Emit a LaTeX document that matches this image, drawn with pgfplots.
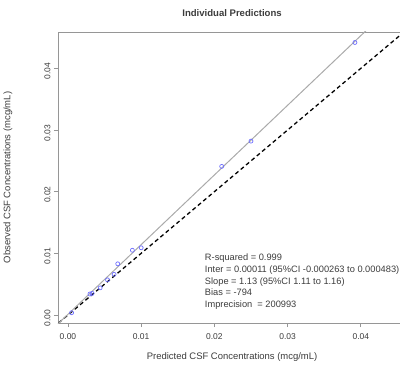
\documentclass[border=0pt]{standalone}
\usepackage{pgfplots}
\pgfplotsset{compat=1.18}
\usepackage{fontspec}
\setmainfont{Liberation Sans}
\definecolor{framegray}{RGB}{150,150,150}
\definecolor{ptblue}{RGB}{110,110,255}
\definecolor{reggray}{RGB}{170,170,170}
\definecolor{txt}{RGB}{60,60,60}
\begin{document}
\begin{tikzpicture}
\begin{axis}[
  at={(58bp,46bp)}, anchor=south west,
  scale only axis, width=346bp, height=291bp,
  xmin=-0.00136, xmax=0.0459, ymin=-0.0013, ymax=0.0459,
  xtick={0,0.01,0.02,0.03,0.04}, ytick={0,0.01,0.02,0.03,0.04},
  xticklabels={0.00,0.01,0.02,0.03,0.04},
  yticklabels={0.00,0.01,0.02,0.03,0.04},
  scaled ticks=false,
  tick align=outside, tick pos=left, major tick length=4bp,
  axis line style={framegray, line width=0.8bp},
  every tick/.style={framegray, line width=0.8bp},
  ticklabel style={font=\fontsize{8.5}{10}\selectfont, text=txt},
  xticklabel style={anchor=north, yshift=-3bp},
  yticklabel style={rotate=90, anchor=south, xshift=-3bp},
  every axis title shift=0pt,
  title={Individual Predictions},
  title style={font=\fontsize{9.6}{11}\selectfont\bfseries, text=txt, at={(axis description cs:0.503,1.064)}, anchor=center},
  xlabel={Predicted CSF Concentrations (mcg/mL)},
  xlabel style={font=\fontsize{9.5}{11}\selectfont, text=txt, at={(axis description cs:0.503,-0.117)}, anchor=center},
  ylabel={Observed CSF Concentrations (mcg/mL)},
  ylabel style={font=\fontsize{9.5}{11}\selectfont, text=txt, at={(axis description cs:-0.1445,0.5)}, anchor=center, rotate=0},
  clip mode=individual,
]
\addplot[black, line width=1.3bp, dash pattern=on 4bp off 3bp] coordinates {(-0.002,-0.002) (0.048,0.048)};
\addplot[reggray, line width=1bp] coordinates {(-0.002,-0.00215) (0.042,0.04757)};
\addplot[only marks, mark=o, mark size=2bp, ptblue, mark options={line width=0.7bp}] coordinates {
(0.0005,0.00037)
(0.0030,0.0034)
(0.0033,0.0035)
(0.0044,0.0044)
(0.0054,0.0057)
(0.0063,0.0066)
(0.0068,0.0083)
(0.0088,0.0105)
(0.0100,0.0109)
(0.0210,0.0241)
(0.0250,0.0282)
(0.0392,0.0442)
};
\node[anchor=north west, align=left, inner sep=0pt, text=txt,
  font=\fontsize{9.3}{11.7}\selectfont] at (axis cs:0.01869,0.0099)
  {R-squared = 0.999\\
   Inter = 0.00011 (95\%CI -0.000263 to 0.000483)\\
   Slope = 1.13 (95\%CI 1.11 to 1.16)\\
   Bias = -794\\
   Imprecision\ \ = 200993};
\end{axis}
\pgfresetboundingbox
\path[use as bounding box] (0,0) rectangle (400bp,369bp);
\end{tikzpicture}
\end{document}
